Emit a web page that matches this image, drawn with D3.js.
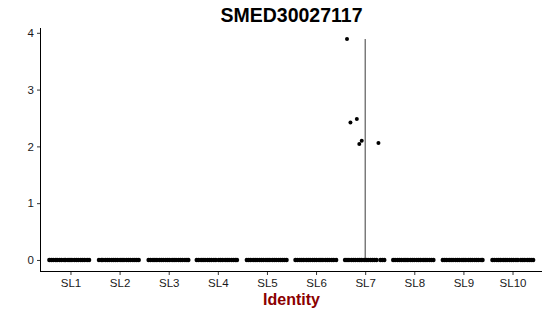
<!DOCTYPE html>
<html>
<head>
<meta charset="utf-8">
<script src="https://cdn.jsdelivr.net/npm/d3@7"></script>
<style>
  body { margin: 0; background: #fff; }
  text { font-family: "Liberation Sans", Arial, sans-serif; }
</style>
</head>
<body>
<div id="chart"></div>
<script>
// categories on the x axis
const categories = ["SL1", "SL2", "SL3", "SL4", "SL5", "SL6", "SL7", "SL8", "SL9", "SL10"];
const yTicks = [0, 1, 2, 3, 4];

// jitter offsets (in category units) of the cells with zero expression, per category
const zeroOffsets = [
  [-0.43, -0.39, -0.35, -0.30, -0.27, -0.22, -0.18, -0.13, -0.10, -0.05, -0.01, 0.03, 0.08, 0.12, 0.16, 0.21, 0.25, 0.29, 0.34, 0.38],
  [-0.42, -0.37, -0.34, -0.29, -0.25, -0.21, -0.16, -0.12, -0.08, -0.04, 0.01, 0.05, 0.09, 0.14, 0.18, 0.22, 0.27, 0.31, 0.35, 0.39],
  [-0.41, -0.37, -0.32, -0.28, -0.24, -0.19, -0.15, -0.11, -0.06, -0.02, 0.02, 0.07, 0.11, 0.15, 0.20, 0.24, 0.28, 0.33, 0.37, 0.40],
  [-0.43, -0.39, -0.34, -0.30, -0.26, -0.21, -0.17, -0.13, -0.08, -0.04, 0.02, 0.06, 0.10, 0.15, 0.19, 0.23, 0.28, 0.32, 0.36, 0.39],
  [-0.41, -0.37, -0.33, -0.28, -0.24, -0.20, -0.15, -0.11, -0.07, -0.02, 0.02, 0.06, 0.11, 0.15, 0.19, 0.24, 0.28, 0.32, 0.36, 0.40],
  [-0.42, -0.38, -0.33, -0.29, -0.25, -0.20, -0.16, -0.12, -0.07, -0.03, 0.01, 0.06, 0.10, 0.14, 0.19, 0.23, 0.27, 0.32, 0.36, 0.41],
  [-0.41, -0.37, -0.33, -0.28, -0.24, -0.20, -0.15, -0.11, -0.07, -0.02, 0.02, 0.06, 0.11, 0.15, 0.19, 0.23, 0.31, 0.35, 0.39],
  [-0.43, -0.39, -0.34, -0.30, -0.26, -0.21, -0.17, -0.13, -0.08, -0.04, 0.00, 0.05, 0.09, 0.13, 0.18, 0.22, 0.26, 0.31, 0.35, 0.39],
  [-0.42, -0.38, -0.34, -0.29, -0.25, -0.21, -0.16, -0.12, -0.08, -0.03, 0.01, 0.05, 0.10, 0.14, 0.18, 0.23, 0.27, 0.31, 0.36, 0.39],
  [-0.41, -0.37, -0.32, -0.28, -0.24, -0.19, -0.15, -0.11, -0.06, -0.02, 0.02, 0.07, 0.11, 0.17, 0.21, 0.25, 0.30, 0.34, 0.38, 0.42]
];

// the few expressing cells (all in SL7)
const posCategory = "SL7";
const posValues  = [3.89, 2.48, 2.42, 2.10, 2.04, 2.06];
const posOffsets = [-0.37, -0.17, -0.30, -0.07, -0.12, 0.27];

// violin extent per category (only SL7 has height)
const violinMax = [0, 0, 0, 0, 0, 0, 3.89, 0, 0, 0];

const width = 550, height = 316;
const margin = {top: 28, right: 8, bottom: 45, left: 41};

const svg = d3.select("#chart").append("svg")
    .attr("width", width)
    .attr("height", height);

// discrete axis with 0.6 unit padding like ggplot
const xScale = d3.scaleLinear()
    .domain([-0.6, categories.length - 1 + 0.6])
    .range([margin.left, width - margin.right]);
const xPos = name => xScale(categories.indexOf(name));

const yMaxData = d3.max(posValues);
const expand = yMaxData * 0.05;
const yScale = d3.scaleLinear()
    .domain([0 - expand, yMaxData + expand])
    .range([height - margin.bottom, margin.top]);

// violins
categories.forEach((c, i) => {
  if (violinMax[i] > 0) {
    svg.append("line")
       .attr("x1", xPos(c))
       .attr("x2", xPos(c))
       .attr("y1", yScale(0))
       .attr("y2", yScale(violinMax[i]))
       .attr("stroke", "#3a3a3a")
       .attr("stroke-width", 1);
  }
});

// zero points
categories.forEach((c, i) => {
  svg.append("g").selectAll("circle")
     .data(zeroOffsets[i])
     .enter().append("circle")
     .attr("cx", d => xScale(i + d))
     .attr("cy", yScale(0))
     .attr("r", 2.2)
     .attr("fill", "black");
});

// expressing points
svg.append("g").selectAll("circle")
   .data(posValues)
   .enter().append("circle")
   .attr("cx", (d, j) => xScale(categories.indexOf(posCategory) + posOffsets[j]))
   .attr("cy", d => yScale(d))
   .attr("r", 2)
   .attr("fill", "black");

// axes
const xAxis = svg.append("g")
    .attr("transform", `translate(0,${height - margin.bottom + 0.5})`)
    .call(d3.axisBottom(xScale)
            .tickValues(d3.range(categories.length))
            .tickFormat(i => categories[i])
            .tickSize(3.5)
            .tickPadding(4));
const yAxis = svg.append("g")
    .attr("transform", `translate(${margin.left - 0.5},0)`)
    .call(d3.axisLeft(yScale)
            .tickValues(yTicks)
            .tickFormat(d3.format("d"))
            .tickSize(3.5)
            .tickPadding(3));

[xAxis, yAxis].forEach(a => {
  a.selectAll(".tick line").attr("stroke", "#333");
  a.selectAll(".tick text")
   .attr("fill", "#1a1a1a")
   .style("font-size", "11.5px")
   .style("font-family", "'Liberation Sans', Arial, sans-serif");
});
// plain axis lines without end ticks
xAxis.select(".domain").remove();
yAxis.select(".domain").remove();
svg.append("line")
   .attr("x1", margin.left - 0.5).attr("x2", width - margin.right)
   .attr("y1", height - margin.bottom + 0.5).attr("y2", height - margin.bottom + 0.5)
   .attr("stroke", "black");
svg.append("line")
   .attr("x1", margin.left - 0.5).attr("x2", margin.left - 0.5)
   .attr("y1", margin.top).attr("y2", height - margin.bottom + 1)
   .attr("stroke", "black");

// title
svg.append("text")
   .attr("x", (margin.left + width - margin.right) / 2)
   .attr("y", 22)
   .attr("text-anchor", "middle")
   .style("font-size", "19.5px")
   .style("font-weight", "bold")
   .text("SMED30027117");

// axis title
svg.append("text")
   .attr("x", (margin.left + width - margin.right) / 2)
   .attr("y", 305)
   .attr("text-anchor", "middle")
   .style("font-size", "16px")
   .style("font-weight", "bold")
   .attr("fill", "#8b0000")
   .text("Identity");
</script>
</body>
</html>
